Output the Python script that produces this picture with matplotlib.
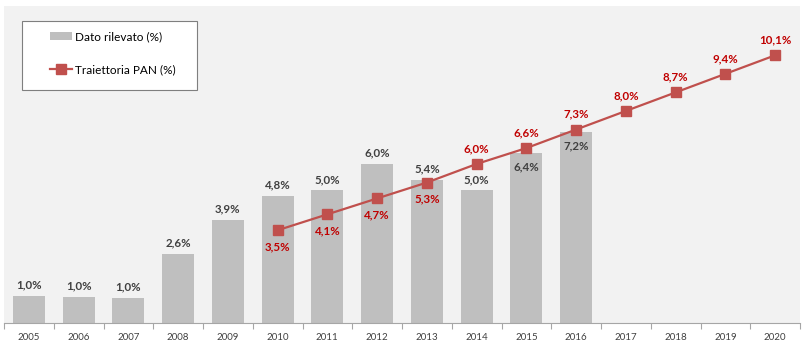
import numpy as np
import matplotlib
matplotlib.use("Agg")
import matplotlib.pyplot as plt
from matplotlib.patches import Rectangle

years = ["2005", "2006", "2007", "2008", "2009", "2010", "2011", "2012",
         "2013", "2014", "2015", "2016", "2017", "2018", "2019", "2020"]
observed = [1.03, 0.99, 0.96, 2.6, 3.9, 4.8, 5.0, 6.0, 5.4, 5.0, 6.4, 7.2]
pan = [3.5, 4.1, 4.7, 5.3, 6.0, 6.6, 7.3, 8.0, 8.7, 9.4, 10.1]

plt.rcParams["font.family"] = ["Lato", "DejaVu Sans"]

BAR = "#BFBFBF"
RED_LINE = "#C0504D"
RED_TXT = "#C00000"
DARK = "#404040"

fig = plt.figure(figsize=(8.11, 3.58), dpi=100)
ax = fig.add_axes([4 / 811, 1 - 323 / 358, 796 / 811, 317 / 358])
ax.set_facecolor("#F2F2F2")

x = np.arange(len(years))
xo = x[:len(observed)]
bars = ax.bar(xo, observed, width=0.64, color=BAR, label="Dato rilevato (%)", zorder=2)

xp = x[len(years) - len(pan):]
line, = ax.plot(xp, pan, color=RED_LINE, lw=1.6, marker="s", ms=6.5,
                label="Traiettoria PAN (%)", zorder=3)


def fmt(v):
    return f"{v:.1f}%".replace(".", ",")


for xi, v in zip(xo, observed):
    if xi >= 10:
        ax.annotate(fmt(v), (xi, v), xytext=(0, -6), textcoords="offset points",
                    ha="center", va="top", fontsize=8.3, fontweight="bold", color=DARK, zorder=4)
    else:
        ax.annotate(fmt(v), (xi, v), xytext=(0, 4), textcoords="offset points",
                    ha="center", va="bottom", fontsize=8.3, fontweight="bold", color=DARK, zorder=4)

for xi, v in zip(xp, pan):
    if xi <= 8:
        ax.annotate(fmt(v), (xi, v), xytext=(0, -8), textcoords="offset points",
                    ha="center", va="top", fontsize=8.3, fontweight="bold", color=RED_TXT, zorder=4)
    else:
        ax.annotate(fmt(v), (xi, v), xytext=(0, 7), textcoords="offset points",
                    ha="center", va="bottom", fontsize=8.3, fontweight="bold", color=RED_TXT, zorder=4)

ax.set_xlim(-0.5, len(years) - 0.5)
ax.set_ylim(0, 11.96)
ax.set_yticks([])
ax.set_xticks(x)
ax.set_xticklabels(years, fontsize=7, color="#404040")
ax.tick_params(axis="x", which="major", length=0, pad=7)
ax.set_xticks(np.arange(-0.5, len(years), 1.0), minor=True)
ax.tick_params(axis="x", which="minor", length=4, color="#A6A6A6", width=0.8)

for s in ["top", "right", "left"]:
    ax.spines[s].set_visible(False)
ax.spines["bottom"].set_color("#A6A6A6")
ax.spines["bottom"].set_linewidth(0.8)

# legend box drawn separately so the padding matches the original
box = Rectangle((18 / 796, (323 - 90) / 317), 175 / 796, 69 / 317,
                transform=ax.transAxes, facecolor="white", edgecolor="#7F7F7F",
                lw=0.8, zorder=5)
ax.add_patch(box)
leg = ax.legend([bars, line], ["Dato rilevato (%)", "Traiettoria PAN (%)"],
                loc="upper left", bbox_to_anchor=(46 / 796, (323 - 31) / 317), fontsize=8.5,
                frameon=False, labelspacing=1.85, handlelength=1.9,
                borderpad=0, handletextpad=0.2, borderaxespad=0)
leg.set_zorder(6)

fig.savefig("out.png", dpi=100, facecolor="white")
